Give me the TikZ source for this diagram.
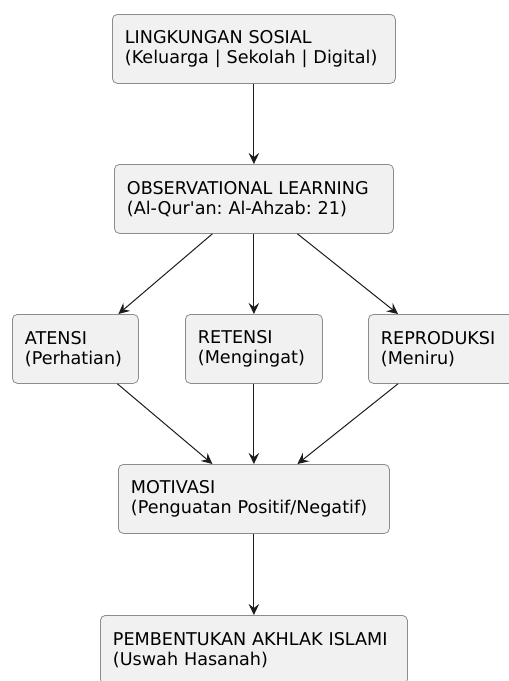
\documentclass[tikz,border=0pt]{standalone}
\usepackage{fontspec}
\setmainfont{DejaVu Sans}
\usetikzlibrary{arrows.meta}
\definecolor{boxfill}{HTML}{F1F1F1}
\definecolor{boxline}{HTML}{8C8C8C}
\definecolor{arrowline}{HTML}{1C1C1C}
\frenchspacing

\begin{document}
\begin{tikzpicture}[x=1pt,y=-1pt,
  box/.style={draw=boxline, fill=boxfill, rounded corners=5pt, line width=0.8pt,
    anchor=north west, minimum height=69pt, inner xsep=12.5pt, inner ysep=0pt,
    align=left, font=\fontsize{17.6}{20.5}\selectfont},
  flow/.style={draw=arrowline, line width=1pt,
    -{Stealth[length=11pt,width=10.5pt,inset=4pt]}}]
  \useasboundingbox (0,0) rectangle (509,681);
  % Source
  \node[box, text width=258pt] (lingkungan) at (112,14)
    {LINGKUNGAN SOSIAL\\(Keluarga | Sekolah | Digital)};
  \node[box, text width=254pt] (observasi) at (114,164)
    {OBSERVATIONAL LEARNING\\(Al-Qur\textquotesingle an: Al-Ahzab: 21)};
  % Three processes
  \node[box, text width=101pt] (atensi) at (12,314)
    {ATENSI\\(Perhatian)};
  \node[box, text width=112pt] (retensi) at (185,314)
    {RETENSI\\(Mengingat)};
  \node[box, text width=125pt] (reproduksi) at (368,314)
    {REPRODUKSI\\(Meniru)};
  % Result
  \node[box, text width=246pt] (motivasi) at (118,464)
    {MOTIVASI\\(Penguatan Positif/Negatif)};
  \node[box, text width=282pt] (akhlak) at (100,615)
    {PEMBENTUKAN AKHLAK ISLAMI\\(Uswah Hasanah)};
  % Arrows
  \draw[flow] (lingkungan.south) -- (observasi.north);
  \draw[flow] ([xshift=-41.5pt]observasi.south) -- ([xshift=43pt]atensi.north);
  \draw[flow] (observasi.south) -- (retensi.north);
  \draw[flow] ([xshift=43.5pt]observasi.south) -- ([xshift=30pt]reproduksi.north west);
  \draw[flow] ([xshift=42pt]atensi.south) -- ([xshift=-41.5pt]motivasi.north);
  \draw[flow] (retensi.south) -- (motivasi.north);
  \draw[flow] ([xshift=30pt]reproduksi.south west) -- ([xshift=43.5pt]motivasi.north);
  \draw[flow] (motivasi.south) -- (akhlak.north);
\end{tikzpicture}
\end{document}
